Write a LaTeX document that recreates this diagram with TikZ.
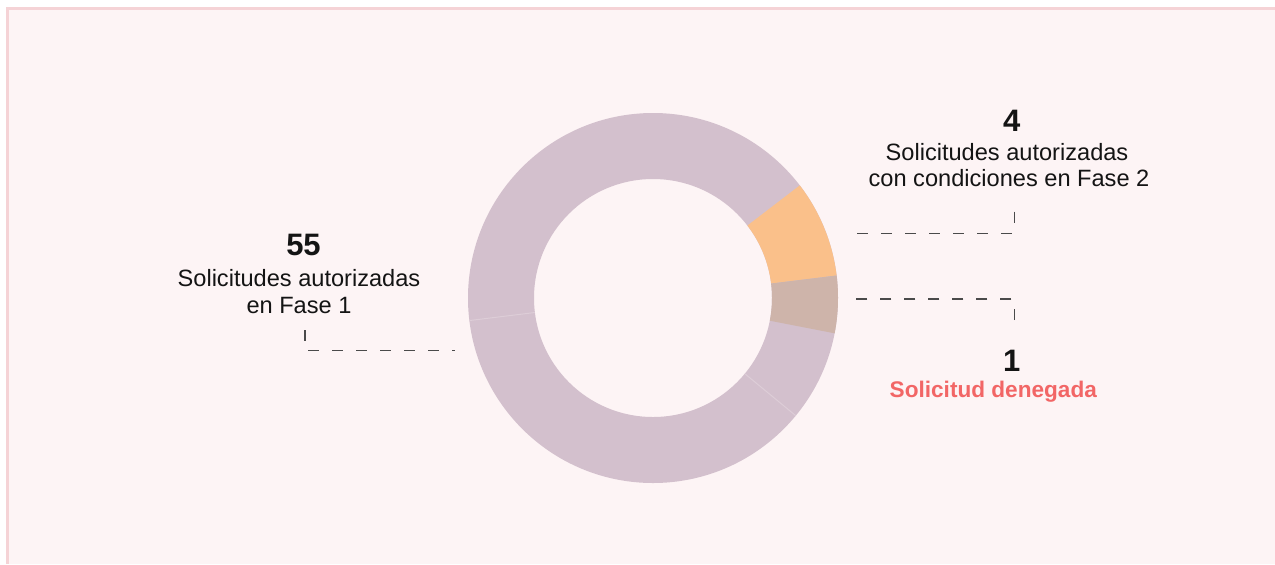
\documentclass[tikz,border=0pt]{standalone}
\usepackage{fontspec}
\setmainfont{Liberation Sans}
\usetikzlibrary{calc}
\definecolor{bgpink}{HTML}{FDF4F5}
\definecolor{bordpink}{HTML}{F5D3D6}
\definecolor{ringpurple}{HTML}{D3C0CD}
\definecolor{ringorange}{HTML}{FAC08A}
\definecolor{ringbrown}{HTML}{CEB4AA}
\definecolor{sepline}{HTML}{DDCDD7}
\definecolor{leader}{HTML}{4A4A4A}
\definecolor{txt}{HTML}{141414}
\definecolor{denied}{HTML}{F26666}
\begin{document}
\begin{tikzpicture}[x=0.5pt,y=0.5pt,
  lbl/.style={inner sep=0pt,anchor=base,text=txt,font=\fontsize{11.8}{14}\selectfont},
  num/.style={inner sep=0pt,anchor=base,text=txt,font=\fontsize{15.5}{18}\selectfont\bfseries},
  deniedlbl/.style={inner sep=0pt,anchor=base,text=denied,font=\fontsize{11.3}{14}\selectfont\bfseries},
  leaderline/.style={draw=leader,line width=0.6pt,dash pattern=on 5.5pt off 6.5pt},
  sep/.style={draw=sepline,line width=0.5pt}]
\useasboundingbox (0,0) rectangle (1275,-564);
\fill[white] (0,0) rectangle (1275,-564);
\fill[bordpink] (6,-7) rectangle (1275,-564);
\fill[bgpink] (9,-10) rectangle (1275,-564);
% donut
\coordinate (c) at (653,-298);
\fill[ringpurple,even odd rule] (c) circle[radius=185] (c) circle[radius=119];
\fill[ringorange] ($(c)+(7:185)$) arc[start angle=7,end angle=37.5,radius=185]
   -- ($(c)+(37.5:119)$) arc[start angle=37.5,end angle=7,radius=119] -- cycle;
\fill[ringbrown] ($(c)+(-11:185)$) arc[start angle=-11,end angle=7,radius=185]
   -- ($(c)+(7:119)$) arc[start angle=7,end angle=-11,radius=119] -- cycle;
\draw[sep] ($(c)+(-39.5:119)$) -- ($(c)+(-39.5:185)$);
\draw[sep] ($(c)+(187:119)$) -- ($(c)+(187:185)$);
% labels
\node[num] (n55) at (303.5,-255) {55};
\node[lbl] (l55a) at (299,-286.5) {Solicitudes autorizadas};
\node[lbl] (l55b) at (299,-313) {en Fase 1};
\node[num] (n4) at (1011.7,-131.7) {4};
\node[lbl] (l4a) at (1007,-160) {Solicitudes autorizadas};
\node[lbl] (l4b) at (1009,-186) {con condiciones en Fase 2};
\node[num] (n1) at (1011.7,-371.7) {1};
\node[deniedlbl] (l1) at (993.3,-397.7) {Solicitud denegada};
% leaders
\coordinate (p4a) at (1014.3,-211.7);
\coordinate (p4c) at (845,-233.3);
\coordinate (p1a) at (1014.3,-320);
\coordinate (p1c) at (845,-299);
\coordinate (p55a) at (305,-330);
\coordinate (p55c) at (455,-350.7);
\draw[leaderline] (p4a) |- (p4c);
\draw[leaderline] (p1a) |- (p1c);
\draw[leaderline] (p55a) |- (p55c);
\end{tikzpicture}
\end{document}
